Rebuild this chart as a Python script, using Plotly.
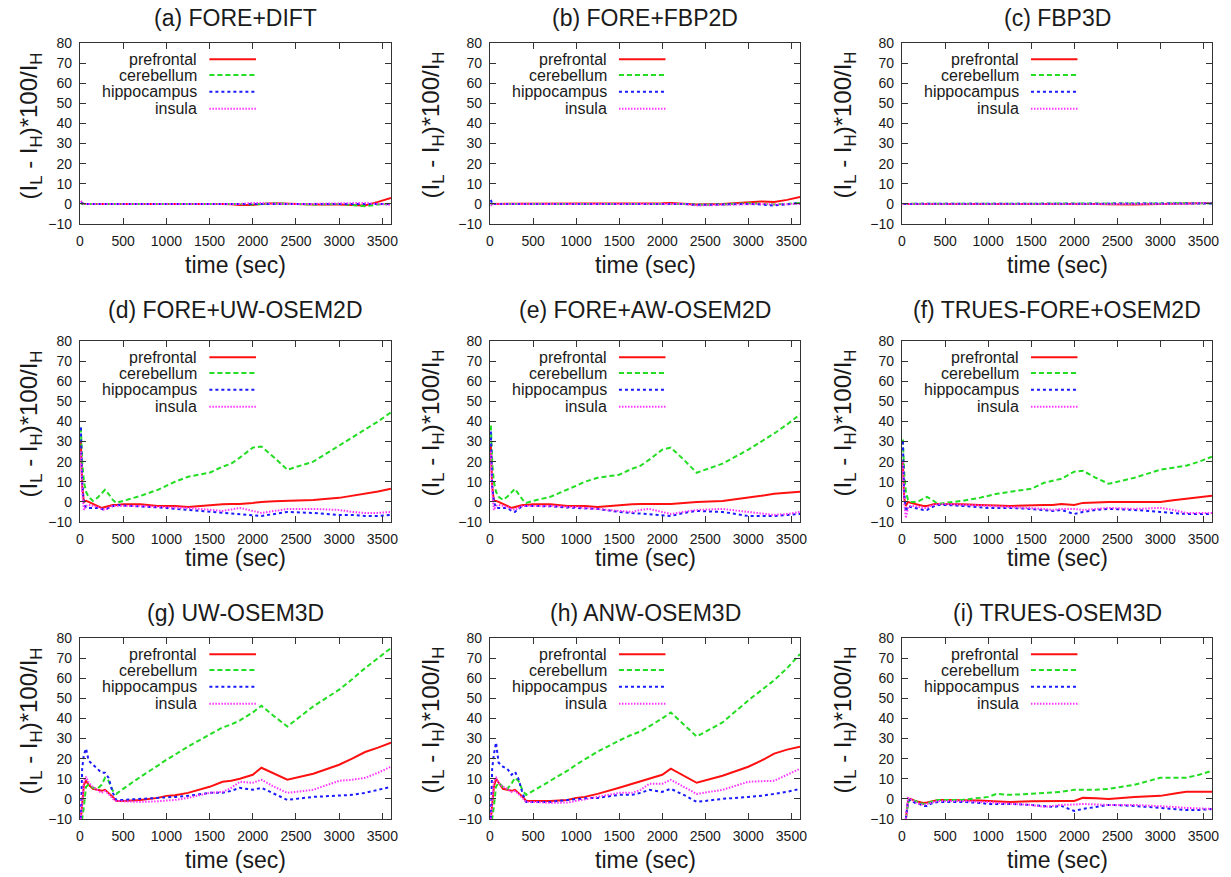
import plotly.graph_objects as go

# ---------------- data ----------------
t = [10, 25, 45, 70, 100, 150, 200, 250,
     290, 330, 380, 420, 500, 700, 900, 1000,
     1100, 1250, 1500, 1650, 1750, 1850, 2000, 2100,
     2250, 2400, 2700, 3000, 3150, 3300, 3450, 3600]

series_names = ["prefrontal", "cerebellum", "hippocampus", "insula"]
panel_titles = ["(a) FORE+DIFT", "(b) FORE+FBP2D", "(c) FBP3D",
                "(d) FORE+UW-OSEM2D", "(e) FORE+AW-OSEM2D", "(f) TRUES-FORE+OSEM2D",
                "(g) UW-OSEM3D", "(h) ANW-OSEM3D", "(i) TRUES-OSEM3D"]
x_ticks = [0, 500, 1000, 1500, 2000, 2500, 3000, 3500]
y_ticks = [-10, 0, 10, 20, 30, 40, 50, 60, 70, 80]

a_pre = [0.3, 0, 0, 0, 0, 0, 0, 0,
         0, 0, 0, 0, 0, 0, 0, 0,
         0.3, 0.3, 0.2, 0, -0.2, -0.5, -0.5, 0,
         0.3, 0, -0.3, -0.3, -0.5, -0.8, 1.0, 3.0]
a_cer = [0.5, 0, 0, 0, 0, 0, 0, 0,
         0, 0, 0, 0, 0, 0.2, 0, 0,
         0, 0.2, 0, 0, 0, 0, -0.3, 0,
         0.3, 0, -0.3, 0, -0.7, -1.2, -0.3, 0]
a_hip = [0.5, 0.2, 0, 0, 0, 0, 0, 0,
         0, 0, 0, 0, 0, 0, 0, -0.2,
         0, 0, 0, 0, 0, 0, -0.3, 0,
         0, 0, -0.2, -0.3, -0.2, -0.3, 0, 0]
a_ins = [1.5, 0.5, 0, 0, 0, 0, 0, 0,
         0, 0, 0, 0, 0, 0, 0, 0,
         0, 0, 0, 0, 0, 0, 0.5, 0.3,
         0.2, 0, 0, 0.3, 0.6, 0.5, 0, -0.5]

b_pre = [0, 0, 0, 0, 0, 0, 0, 0,
         0, 0, 0, 0, 0, 0, 0, 0,
         0, 0.2, 0.3, 0.2, 0, 0, 0.3, 0.5,
         0, -0.3, 0, 1.0, 1.2, 1.0, 2.0, 3.5]
b_cer = [0, 0, 0, 0, 0, 0, 0, 0,
         0, 0, 0, 0, 0, 0, 0, 0,
         0, 0, 0.2, 0, 0, 0, 0.3, 0.2,
         0, -0.5, -0.3, 0.3, 0, -0.3, 0, 0.5]
b_hip = [2.0, 0, 0, 0, 0, 0, 0, 0,
         0, 0, 0, 0, 0, 0, 0, 0,
         0, 0, 0, 0, 0, 0, 0.2, 0,
         0, -0.5, -0.3, 0, -0.3, -0.8, -0.2, 0.5]
b_ins = [-1.0, 0, 0, 0, 0, 0, 0, 0,
         0, 0, 0, 0, 0, 0, 0, 0,
         0, 0, 0, 0, 0, 0, 0, 0.3,
         0, -0.8, -0.5, 0, 0, -0.3, 0, 0]

c_pre = [0, 0, 0, 0, 0, 0, 0, 0,
         0, 0, 0, 0, 0, 0, 0, 0,
         0, 0.2, 0.3, 0, 0, 0, 0, 0,
         0, -0.2, -0.3, 0, 0, 0, 0.3, 0.5]
c_cer = [0, 0, 0, 0, 0, 0, 0, 0,
         0, 0, 0, 0, 0, 0, 0, 0,
         0, 0, 0, 0, 0, 0, 0, 0,
         0, 0, 0, 0.3, 0, 0, 0, 0.3]
c_hip = [0, 0, 0, 0, 0, 0, 0, 0,
         0, 0, 0, 0, 0, 0, 0, 0,
         0, 0, 0, 0, 0, 0, 0, 0,
         0, 0, 0.2, 0, 0, 0, 0, 0.2]
c_ins = [0, 0, 0, 0, 0, 0, 0, 0,
         0, 0, 0, 0, 0, 0, 0, 0,
         0, 0, 0, 0, 0, 0, 0, 0,
         0, 0, 0, 0, 0, 0, 0.5, 0.5]

d_pre = [30, 8, 0, 0.5, 0, -1, -2, -3,
         -2.5, -2, -1.5, -1.5, -1.2, -1.2, -2, -2,
         -2, -2.5, -1.5, -1.2, -1, -1, -0.5, 0,
         0.3, 0.5, 1, 2, 3, 4, 5.2, 6.5]
d_cer = [37, 20, 10, 5, 2.5, 0.5, 2, 4,
         6, 4, 1, -0.5, 0.5, 3, 6, 8,
         10, 12.5, 14.5, 17.5, 19, 22, 27, 27.5,
         22, 16, 20, 28, 32, 36, 40, 44.5]
d_hip = [37, 10, -1, -3, -3, -3, -3, -3.5,
         -4, -3, -2, -1.5, -1.8, -2.2, -2.8, -3,
         -3.5, -4, -5, -5.5, -6, -6, -6.5, -7,
         -6, -5, -5.5, -6.5, -6.5, -7, -7, -6.5]
d_ins = [25, 5, -4, -2, -1.5, -2, -2.5, -3.5,
         -4, -3, -2, -2, -2, -2, -2.5, -2.5,
         -2.8, -3, -4, -4.5, -3.8, -3, -4.5, -5.5,
         -4.5, -3.5, -3.5, -4, -5, -5.5, -5.5, -5]

e_pre = [28, 8, 0.5, 0.5, 0, -1, -2, -3,
         -2.5, -2, -1.5, -1.5, -1.2, -1.2, -2, -2,
         -2, -2.5, -1.5, -1.2, -1, -1, -1, -1,
         -0.5, 0, 0.5, 2, 3, 4, 4.5, 5]
e_cer = [38, 20, 10, 5, 2.5, 1, 2.5, 4.5,
         6.5, 4, 1, -0.5, 0.5, 2.5, 6, 8,
         10, 12, 13.5, 16.5, 18, 21, 26, 27,
         21, 14.5, 19, 26, 30, 34, 38.5, 43.5]
e_hip = [35, 8, 0, -3, -3, -3, -3, -4.5,
         -5, -3.5, -2, -2, -2, -2.2, -2.8, -3,
         -3.2, -3.5, -5, -5.5, -6, -6, -6.5, -7,
         -5.5, -4.5, -5, -7, -7, -7, -6.5, -6]
e_ins = [25, 5, -4, -2, -1.5, -2, -2.5, -3.5,
         -4, -3, -2, -2, -2, -2, -2.5, -2.5,
         -3, -3.5, -4.5, -5, -4, -3.5, -5, -6,
         -5, -4, -3.5, -5, -6, -6.5, -6, -5]

f_pre = [20, 2, -2, 0, -0.5, -1, -1.5, -2,
         -2, -1.5, -1, -1, -1, -1.2, -1.5, -1.5,
         -1.8, -2, -1.5, -1.5, -1.5, -1, -1.5, -0.5,
         -0.3, 0, 0, 0, 0.8, 1.5, 2.3, 3]
f_cer = [31, 15, 5, 1, 0, 0, 0.5, 1.5,
         2.5, 1.5, 0, -1, -0.5, 0.5, 2, 3,
         4, 5, 6.5, 9.5, 10.5, 11.5, 15, 15.5,
         12, 9, 12, 16, 17, 18, 20, 22.5]
f_hip = [30, 5, -5, -2, -2.5, -3, -3.5, -4,
         -4, -3, -2, -1.5, -1.5, -2, -2.7, -3,
         -3, -3, -3.5, -4, -4.5, -4, -6, -5,
         -4, -3.5, -4, -5, -5.5, -6, -6, -6]
f_ins = [20, 0, -8, -3, -2, -2, -2.5, -3,
         -3, -2, -1.5, -1, -1, -1.5, -2, -2,
         -2.2, -2.5, -3, -3.5, -4, -3.5, -3.5, -4,
         -3.5, -3, -3.5, -3, -4, -5.5, -5.5, -5.5]

g_pre = [-10, -4, 7, 9, 7, 5, 4.5, 4,
         4.5, 3, 1, -1, -1, -0.5, 0.5, 1.5,
         1.8, 3, 6, 8.5, 9, 10, 12, 15.5,
         12.5, 9.5, 12.5, 17, 20, 23.3, 25.5, 28]
g_cer = [-10, -10, -4, 6, 7, 5.5, 5, 7,
         10.5, 9, 4, 2.5, 5, 11, 16.5, 19.5,
         22, 26, 32, 35.5, 37, 39, 43, 46.3,
         41, 36, 46, 54.3, 59.5, 65, 70, 75]
g_hip = [-10, 15, 22, 25, 19, 17, 15.5, 13,
         13, 10.5, 3, -0.5, -0.5, 0, 0.3, 0.5,
         1, 1.5, 3, 3, 4, 5.5, 4.5, 5.5,
         2.5, -0.5, 1, 1.5, 2, 3, 4.5, 6]
g_ins = [-10, 0, 9, 11, 8, 6, 4.5, 3,
         4, 2.5, 0, -1, -1.2, -1.5, -1.2, -1,
         -0.5, 0.5, 3, 3.5, 5.5, 8.5, 8, 9.5,
         6, 3, 4.5, 9, 9.5, 10.5, 13, 16]

h_pre = [-10, -3, 6, 10, 8, 5, 4.5, 4,
         4.5, 3, 1, -1, -1, -1, -0.5, 0.5,
         1, 2.5, 5.5, 7.5, 8.5, 10, 12, 15,
         11.5, 8, 11.5, 16, 19, 22.5, 24.5, 26]
h_cer = [-10, -10, -4, 6, 8, 6, 5, 7.5,
         10.5, 9, 4, 2, 4, 9, 14, 17,
         19.5, 23.5, 29, 32, 33.5, 36, 40, 43,
         37, 31, 38, 49, 54, 59, 65, 72]
h_hip = [-10, 15, 22, 28, 18, 16, 15, 12,
         13.5, 10, 2.5, -1.5, -1.5, -1.5, -0.5, 0,
         0.3, 0.5, 2, 2, 3, 4.5, 3.5, 5,
         2, -1.5, 0, 1, 1.5, 2.5, 3.5, 5]
h_ins = [-10, 0, 9, 10.5, 8, 6, 5, 3.5,
         4, 2.5, 0, -1.5, -1.5, -2, -1.8, -1,
         -0.5, 1, 3, 3, 4.5, 7.5, 7.5, 9.5,
         6, 2.5, 4.5, 8.5, 8.8, 9, 12, 15]

i_pre = [None, None, -10, -1, 0, -1, -1.5, -2,
         -1.8, -1.5, -0.8, -0.5, -0.5, -0.5, -0.8, -1,
         -1.2, -1.5, -1.2, -1, -1, -1, -1, 0.5,
         0.3, 0, 1, 1.5, 2.5, 3.5, 3.5, 3.5]
i_cer = [None, None, -10, -2, 0, -1, -2, -2.5,
         -2.5, -1.5, -1, -0.5, -0.5, -0.5, 0.5, 1,
         2.5, 2, 2.5, 3, 3, 3.5, 4.5, 4.5,
         4.5, 5, 7, 10.5, 10.5, 10.5, 12, 14]
i_hip = [None, None, -10, -1, -0.5, -2, -2.5, -3.5,
         -3.5, -2.5, -1.8, -1.5, -1.5, -1.5, -2, -2.5,
         -2.5, -2.5, -3, -3.5, -4, -3.5, -6, -5,
         -4, -3, -3.5, -4.5, -5, -5.5, -5.5, -5]
i_ins = [None, None, -10, 0.5, 0, -1.5, -2.5, -3,
         -2.5, -2, -1.2, -1, -1, -1, -1.5, -1.5,
         -2, -2.5, -3, -4, -3.5, -3, -2.8, -2.5,
         -2.8, -3, -3, -3.5, -4, -4.5, -4.8, -5]

panels = [
    (a_pre, a_cer, a_hip, a_ins), (b_pre, b_cer, b_hip, b_ins), (c_pre, c_cer, c_hip, c_ins),
    (d_pre, d_cer, d_hip, d_ins), (e_pre, e_cer, e_hip, e_ins), (f_pre, f_cer, f_hip, f_ins),
    (g_pre, g_cer, g_hip, g_ins), (h_pre, h_cer, h_hip, h_ins), (i_pre, i_cer, i_hip, i_ins),
]

# ---------------- styling ----------------
W, H = 1231, 877
FONT = "Liberation Sans, Arial, Helvetica, sans-serif"
TXT = "#1a1a1a"
AX = "#333333"
colors = ["#ff1010", "#22dd22", "#1a1aff", "#ff33ff"]
dashes = ["solid", "5px,3px", "3px,3px", "1.5px,1.5px"]

col_px = [(80, 391), (490, 800), (902, 1212)]
row_px = [(43, 224), (341, 522), (638, 819)]
title_shift = [25, 31, 25]
xtitle_shift = [41, 36, 41]
ytitle_shift = [50, 58, 58]
legend_y = [0.91, 0.823, 0.731, 0.637]

fig = go.Figure()
layout = dict(width=W, height=H, margin=dict(l=0, r=0, t=0, b=0),
              paper_bgcolor="white", plot_bgcolor="white",
              font=dict(family=FONT, color=TXT, size=14), showlegend=False)
annotations = []
shapes = []

for k, series in enumerate(panels):
    r, c = divmod(k, 3)
    suffix = "" if k == 0 else str(k + 1)
    xa, ya = "x" + suffix, "y" + suffix
    for s, vals in enumerate(series):
        fig.add_trace(go.Scatter(x=t, y=vals, mode="lines", name=series_names[s],
                                 line=dict(color=colors[s], width=2, dash=dashes[s]),
                                 xaxis=xa, yaxis=ya, showlegend=False))
    x0, x1 = col_px[c]
    y0, y1 = row_px[r]
    common = dict(showgrid=False, zeroline=False, showline=True, linecolor=AX, linewidth=1.4,
                  ticks="inside", ticklen=6, tickwidth=1.2, tickcolor=AX, mirror="ticks",
                  tickfont=dict(size=14, family=FONT, color=TXT), automargin=False,
                  fixedrange=True)
    layout["xaxis" + suffix] = dict(common, domain=[x0 / W, x1 / W], range=[0, 3600],
                                    tickmode="array", tickvals=x_ticks, anchor=ya,
                                    ticklabelstandoff=4)
    layout["yaxis" + suffix] = dict(common, domain=[1 - y1 / H, 1 - y0 / H], range=[-10, 80],
                                    tickmode="array", tickvals=y_ticks, anchor=xa,
                                    ticklabelstandoff=4)
    xd, yd = xa + " domain", ya + " domain"
    # panel title
    annotations.append(dict(text=panel_titles[k], xref=xd, yref=yd, x=0.5, y=1,
                            yshift=title_shift[r], xanchor="center", yanchor="middle",
                            showarrow=False, font=dict(size=23, family=FONT, color=TXT)))
    # axis titles
    annotations.append(dict(text="time (sec)", xref=xd, yref=yd, x=0.5, y=0,
                            yshift=-xtitle_shift[r], xanchor="center", yanchor="middle",
                            showarrow=False, font=dict(size=23, family=FONT, color=TXT)))
    annotations.append(dict(text="(I<sub>L</sub> - I<sub>H</sub>)*100/I<sub>H</sub>",
                            xref=xd, yref=yd, x=0, y=0.5, yshift=8, xshift=-ytitle_shift[c],
                            xanchor="center", yanchor="middle", textangle=-90,
                            showarrow=False, font=dict(size=24, family=FONT, color=TXT)))
    # legend (gnuplot style: label then sample)
    for s in range(4):
        annotations.append(dict(text=series_names[s], xref=xd, yref=yd, x=0.383,
                                y=legend_y[s], xanchor="right", yanchor="middle",
                                showarrow=False, font=dict(size=16, family=FONT, color=TXT)))
        shapes.append(dict(type="line", xref=xd, yref=yd, x0=0.416, x1=0.566,
                           y0=legend_y[s], y1=legend_y[s],
                           line=dict(color=colors[s], width=2, dash=dashes[s])))

layout["annotations"] = annotations
layout["shapes"] = shapes
fig.update_layout(**layout)
fig.write_html("out.html")
